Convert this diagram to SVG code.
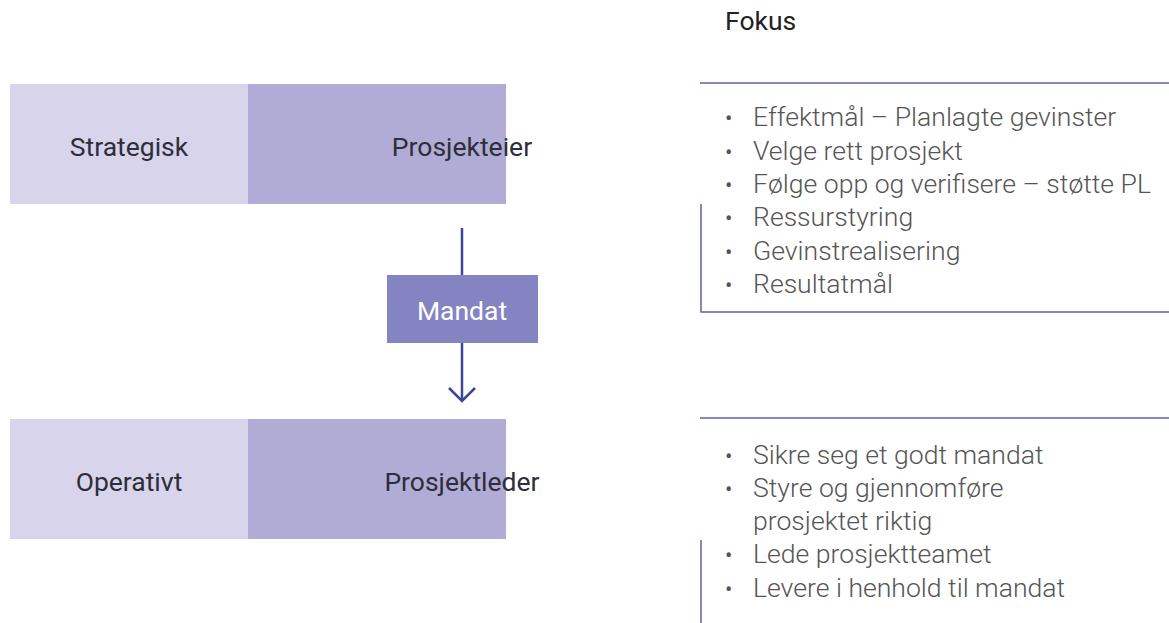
<svg xmlns="http://www.w3.org/2000/svg" width="1169" height="623" viewBox="0 0 1169 623">
<style>
.lbl{font-family:Roboto,"Liberation Sans",sans-serif;font-size:26.5px;fill:#2e2e3a;text-anchor:middle}
.li{font-family:Roboto,"Liberation Sans",sans-serif;font-size:26.6px;fill:#555;font-weight:300}
.bul{font-size:22px;font-weight:400}
.frame{fill:none;stroke:#5f5fa6;stroke-width:1.5}
.light{fill:#d7d4eb}
.dark{fill:#b0acd6}
.conn{fill:none;stroke:#3d4696;stroke-width:2.5}
</style>
<rect width="1169" height="623" fill="#fff"/>
<text x="725" y="30" class="li" style="fill:#222;font-weight:400;font-size:26.5px">Fokus</text>
<g id="strategisk"><rect x="10" y="84" width="238" height="120" class="light"/><text x="129" y="156" class="lbl">Strategisk</text></g>
<g id="prosjekteier"><rect x="248" y="84" width="258" height="120" class="dark"/><text x="462" y="156" class="lbl">Prosjekteier</text></g>
<g id="operativt"><rect x="10" y="419" width="238" height="120" class="light"/><text x="129" y="491" class="lbl">Operativt</text></g>
<g id="prosjektleder"><rect x="248" y="419" width="258" height="120" class="dark"/><text x="462" y="491" class="lbl">Prosjektleder</text></g>
<g id="connectors">
<line x1="462" y1="228" x2="462" y2="275" class="conn"/>
<line x1="462" y1="343" x2="462" y2="400" class="conn"/>
<path d="M449,388 L462,401 L475,388" class="conn"/>
</g>
<g id="mandat"><rect x="387" y="275" width="151" height="68" fill="#8584c2"/><text x="462" y="320" class="lbl" style="fill:#fff">Mandat</text></g>
<g id="fokus-top">
<path d="M700,83 H1169" class="frame"/>
<path d="M701,204 V312 H1169" class="frame"/>
<g class="li">
<text x="725" y="126" class="bul">•</text><text x="753" y="126">Effektmål – Planlagte gevinster</text>
<text x="725" y="160" class="bul">•</text><text x="753" y="160">Velge rett prosjekt</text>
<text x="725" y="193" class="bul">•</text><text x="753" y="193">Følge opp og verifisere – støtte PL</text>
<text x="725" y="226" class="bul">•</text><text x="753" y="226">Ressurstyring</text>
<text x="725" y="260" class="bul">•</text><text x="753" y="260">Gevinstrealisering</text>
<text x="725" y="293" class="bul">•</text><text x="753" y="293">Resultatmål</text>
</g>
</g>
<g id="fokus-bottom">
<path d="M700,418 H1169" class="frame"/>
<path d="M701,540 V623" class="frame"/>
<g class="li">
<text x="725" y="464" class="bul">•</text><text x="753" y="464">Sikre seg et godt mandat</text>
<text x="725" y="497" class="bul">•</text><text x="753" y="497">Styre og gjennomføre</text>
<text x="753" y="530">prosjektet riktig</text>
<text x="725" y="563" class="bul">•</text><text x="753" y="563">Lede prosjektteamet</text>
<text x="725" y="597" class="bul">•</text><text x="753" y="597">Levere i henhold til mandat</text>
</g>
</g>
</svg>
